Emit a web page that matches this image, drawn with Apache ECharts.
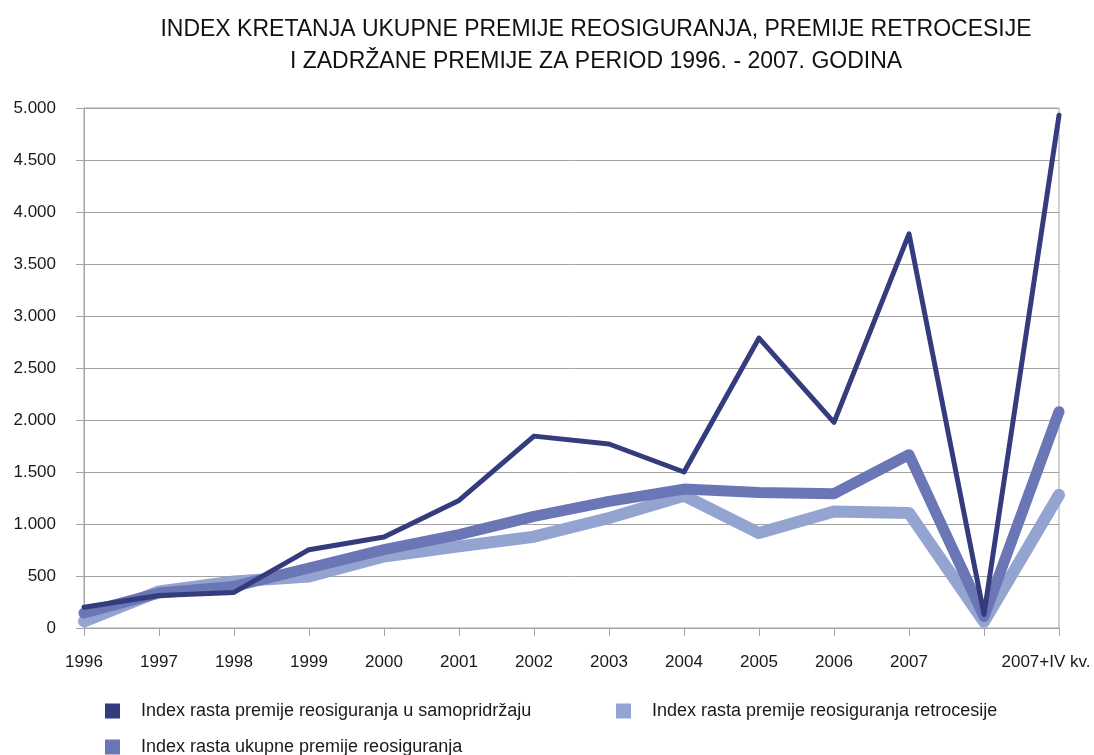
<!DOCTYPE html>
<html>
<head>
<meta charset="utf-8">
<title>Index kretanja premije reosiguranja</title>
<script src="https://cdn.jsdelivr.net/npm/echarts@6/dist/echarts.min.js"></script>
<style>
  html, body { margin: 0; padding: 0; background: #fff; }
  #chart { width: 1094px; height: 755px; }
</style>
</head>
<body>
<div id="chart"></div>
<script>
  // kategorije na x osi (prazna je pad prije zadnje tocke)
  const categories = ['1996', '1997', '1998', '1999', '2000', '2001', '2002', '2003', '2004', '2005', '2006', '2007', '', '2007+IV kv.']

  // index rasta premije reosiguranja u samopridrzaju
  const samopridrzaj = [200, 313, 342, 753, 875, 1227, 1845, 1769, 1500, 2788, 1977, 3790, 130, 4930]
  // index rasta premije reosiguranja retrocesije
  const retrocesija = [64, 352, 448, 496, 688, 785, 878, 1058, 1272, 913, 1121, 1106, 60, 1280]
  // index rasta ukupne premije reosiguranja
  const ukupna = [144, 336, 400, 577, 753, 897, 1073, 1217, 1336, 1304, 1291, 1666, 110, 2080]

  const seriesNames = [
    'Index rasta premije reosiguranja u samopridržaju',
    'Index rasta premije reosiguranja retrocesije',
    'Index rasta ukupne premije reosiguranja'
  ]

  const FONT = 'Liberation Sans'
  const GRAY = '#a3a3a3'

  // 5000 -> 5.000
  function fmt(v) {
    if (v < 1000) return String(v)
    return Math.floor(v / 1000) + '.' + String(v % 1000).padStart(3, '0')
  }

  const xData = categories.map((c, i) => {
    if (i === categories.length - 1) {
      return { value: c, textStyle: { padding: [0, 26, 0, 0] } }
    }
    return c
  })

  const legendBase = {
    icon: 'rect',
    itemWidth: 15,
    itemHeight: 15,
    itemGap: 0,
    itemStyle: { borderWidth: 0 },
    textStyle: { fontFamily: FONT, fontSize: 18, color: '#1a1a1a', padding: [0, 0, 0, 16] }
  }

  const chart = echarts.init(document.getElementById('chart'))

  chart.setOption({
    animation: false,
    backgroundColor: '#fff',
    textStyle: { fontFamily: FONT },
    title: {
      text: 'INDEX KRETANJA UKUPNE PREMIJE REOSIGURANJA, PREMIJE RETROCESIJE\nI ZADRŽANE PREMIJE ZA PERIOD 1996. - 2007. GODINA',
      left: 591,
      top: 9,
      textAlign: 'center',
      textStyle: { fontFamily: FONT, fontSize: 23, fontWeight: 'normal', color: '#111', lineHeight: 32 }
    },
    legend: [
      Object.assign({}, legendBase, { data: [seriesNames[0]], left: 100, top: 697 }),
      Object.assign({}, legendBase, { data: [seriesNames[1]], left: 611, top: 697 }),
      Object.assign({}, legendBase, { data: [seriesNames[2]], left: 100, top: 733 })
    ],
    grid: {
      left: 84,
      right: 35,
      top: 108,
      bottom: 127,
      show: true,
      borderColor: GRAY,
      borderWidth: 1
    },
    xAxis: {
      type: 'category',
      data: xData,
      boundaryGap: false,
      axisLine: { lineStyle: { color: GRAY } },
      axisTick: { show: true, length: 8, interval: 0, lineStyle: { color: GRAY } },
      axisLabel: { interval: 0, margin: 26, fontSize: 17, color: '#1a1a1a', fontFamily: FONT },
      splitLine: { show: false }
    },
    yAxis: {
      type: 'value',
      min: 0,
      max: 5000,
      interval: 500,
      axisLine: { show: true, lineStyle: { color: GRAY } },
      axisTick: { show: true, length: 8, lineStyle: { color: GRAY } },
      axisLabel: {
        margin: 28,
        fontSize: 17,
        color: '#1a1a1a',
        fontFamily: FONT,
        padding: [0, 0, 8, 0],
        formatter: fmt
      },
      splitLine: { lineStyle: { color: GRAY } }
    },
    series: [
      {
        name: seriesNames[0],
        type: 'line',
        data: samopridrzaj,
        z: 4,
        showSymbol: false,
        color: '#343c7e',
        lineStyle: { width: 5, color: '#343c7e', cap: 'round', join: 'round' }
      },
      {
        name: seriesNames[1],
        type: 'line',
        data: retrocesija,
        z: 2,
        showSymbol: false,
        color: '#94a4d1',
        lineStyle: { width: 12, color: '#94a4d1', cap: 'round', join: 'round' }
      },
      {
        name: seriesNames[2],
        type: 'line',
        data: ukupna,
        z: 3,
        showSymbol: false,
        color: '#6a76b5',
        lineStyle: { width: 11, color: '#6a76b5', cap: 'round', join: 'round' }
      }
    ]
  })
</script>
</body>
</html>
